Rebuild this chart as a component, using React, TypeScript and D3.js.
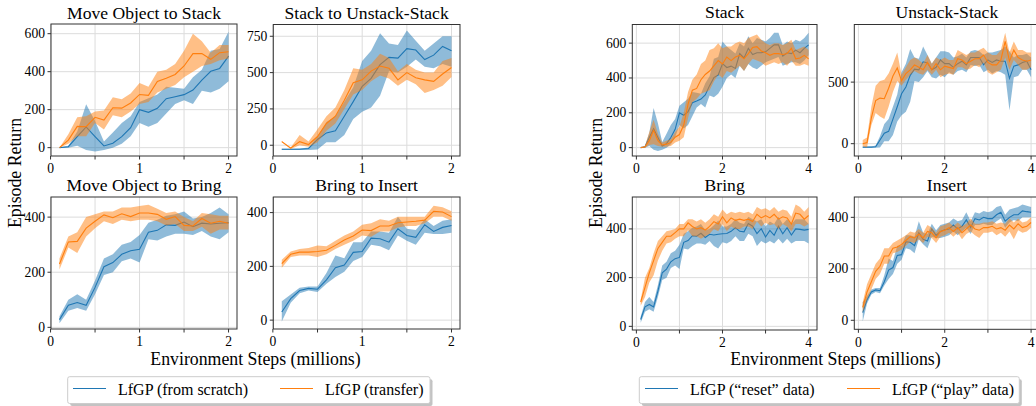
import React from 'react';
import * as d3 from 'd3';

const BLUE = '#1f77b4';
const ORANGE = '#ff7f0e';
const FONT = '"Liberation Serif", "Times New Roman", "DejaVu Serif", serif';

// environment steps (millions)
const steps2M = [0.1, 0.2, 0.3, 0.4, 0.5, 0.6, 0.7, 0.8, 0.9, 1.0, 1.1, 1.2, 1.3, 1.4, 1.5, 1.6, 1.7, 1.8, 1.9, 2.0];
const steps4M = [0.1, 0.2, 0.3, 0.4, 0.5, 0.6, 0.7, 0.8, 0.9, 1.0, 1.1, 1.2, 1.3, 1.4, 1.5, 1.6, 1.7, 1.8, 1.9, 2.0,
  2.1, 2.2, 2.3, 2.4, 2.5, 2.6, 2.7, 2.8, 2.9, 3.0, 3.1, 3.2, 3.3, 3.4, 3.5, 3.6, 3.7, 3.8, 3.9, 4.0];

const titles = ['Move Object to Stack', 'Stack to Unstack-Stack', 'Move Object to Bring', 'Bring to Insert',
  'Stack', 'Unstack-Stack', 'Bring', 'Insert'];
const legendLeft = ['LfGP (from scratch)', 'LfGP (transfer)'];
const legendRight = ['LfGP (\u201creset\u201d data)', 'LfGP (\u201cplay\u201d data)'];
const xAxisLabel = 'Environment Steps (millions)';
const yAxisLabel = 'Episode Return';

// Panel 1: Move Object to Stack
const p1BlueMean = [0, 5, 58, 109, 58, 9, 23, 58, 105, 200, 186, 207, 258, 268, 279, 303, 356, 402, 417, 482];
const p1BlueLo = [0, 0, 10, -12, -20, -12, 0, 20, 60, 130, 110, 130, 180, 230, 250, 230, 300, 290, 310, 350];
const p1BlueHi = [0, 10, 85, 228, 140, 32, 80, 130, 165, 240, 260, 280, 320, 315, 310, 370, 410, 510, 520, 610];
const p1OrangeMean = [0, 40, 112, 110, 160, 145, 210, 208, 235, 280, 275, 348, 365, 385, 430, 495, 495, 465, 500, 505];
const p1OrangeLo = [0, 20, 60, 60, 130, 95, 170, 160, 190, 230, 240, 290, 310, 330, 370, 400, 430, 440, 460, 470];
const p1OrangeHi = [0, 70, 160, 165, 190, 195, 265, 255, 285, 340, 320, 400, 410, 440, 510, 600, 560, 500, 540, 540];

// Panel 2: Stack to Unstack-Stack
const p2BlueMean = [-28, -28, -28, -22, 40, 85, 100, 200, 300, 405, 460, 555, 605, 600, 665, 655, 590, 620, 680, 650];
const p2BlueLo = [-32, -32, -32, -32, -30, 20, 20, 70, 180, 230, 260, 340, 510, 500, 540, 590, 540, 530, 560, 540];
const p2BlueHi = [-24, -24, -22, -15, 60, 160, 200, 300, 400, 580, 650, 770, 700, 690, 790, 720, 650, 700, 750, 750];
const p2OrangeMean = [25, -20, 25, 5, 60, 150, 200, 310, 430, 450, 510, 545, 530, 450, 500, 465, 450, 440, 490, 535];
const p2OrangeLo = [20, -25, 0, -10, 20, 100, 150, 250, 350, 380, 440, 480, 460, 410, 450, 420, 360, 380, 410, 470];
const p2OrangeHi = [30, -15, 70, 25, 110, 200, 260, 380, 530, 520, 560, 630, 600, 510, 560, 520, 500, 500, 580, 600];

// Panel 3: Move Object to Bring
const p3BlueMean = [28, 80, 90, 80, 145, 220, 235, 265, 278, 283, 345, 352, 372, 370, 382, 365, 378, 375, 378, 380];
const p3BlueLo = [15, 60, 70, 60, 120, 190, 200, 240, 250, 235, 320, 315, 330, 340, 340, 335, 350, 330, 320, 345];
const p3BlueHi = [40, 100, 120, 100, 170, 250, 265, 300, 310, 335, 380, 390, 405, 410, 420, 395, 400, 415, 435, 410];
const p3OrangeMean = [230, 310, 312, 360, 385, 408, 398, 412, 402, 415, 415, 410, 392, 402, 370, 368, 395, 378, 385, 378];
const p3OrangeLo = [210, 290, 270, 330, 360, 385, 375, 390, 385, 390, 390, 385, 370, 375, 350, 350, 365, 340, 355, 355];
const p3OrangeHi = [250, 330, 345, 400, 410, 420, 420, 435, 435, 440, 445, 430, 415, 420, 400, 385, 415, 410, 405, 405];

// Panel 4: Bring to Insert
const p4BlueMean = [30, 80, 110, 118, 115, 150, 195, 205, 252, 255, 305, 303, 290, 340, 315, 308, 355, 330, 345, 352];
const p4BlueLo = [-5, 65, 100, 110, 105, 135, 160, 180, 220, 235, 280, 275, 260, 315, 295, 280, 325, 320, 320, 325];
const p4BlueHi = [70, 95, 120, 125, 125, 175, 240, 230, 290, 290, 330, 330, 325, 385, 340, 335, 375, 350, 370, 375];
const p4OrangeMean = [210, 245, 253, 253, 255, 260, 278, 298, 313, 335, 333, 350, 350, 362, 365, 368, 372, 405, 402, 385];
const p4OrangeLo = [195, 235, 240, 240, 235, 245, 265, 280, 295, 315, 310, 330, 330, 345, 350, 350, 360, 385, 385, 370];
const p4OrangeHi = [225, 255, 265, 268, 278, 275, 295, 315, 330, 355, 360, 375, 370, 385, 385, 385, 385, 425, 420, 405];

// Panel 5: Stack
const p5BlueMean = [0, 5, 58, 109, 58, 9, 23, 58, 105, 200, 186, 207, 258, 268, 279, 303, 356, 402, 417, 482,
  460, 468, 455, 540, 515, 570, 535, 545, 545, 550, 570, 590, 590, 525, 545, 540, 560, 545, 570, 590];
const p5BlueLo = [0, 0, 10, -12, -20, -12, 0, 20, 60, 130, 110, 130, 180, 230, 250, 230, 300, 290, 310, 350,
  400, 420, 400, 470, 440, 480, 460, 450, 470, 490, 500, 510, 520, 470, 480, 490, 490, 480, 500, 530];
const p5BlueHi = [0, 10, 85, 228, 140, 32, 80, 130, 165, 240, 260, 280, 320, 315, 310, 370, 410, 510, 520, 610,
  580, 560, 540, 600, 580, 640, 600, 630, 620, 610, 630, 660, 660, 590, 610, 600, 620, 610, 630, 660];
const p5OrangeMean = [0, 5, 40, 100, 40, 15, 20, 30, 60, 75, 130, 250, 330, 340, 390, 420, 440, 470, 500, 480,
  520, 500, 520, 530, 510, 540, 575, 580, 555, 545, 530, 540, 540, 535, 540, 570, 510, 515, 530, 510];
const p5OrangeLo = [0, 0, 15, 20, 10, 5, 5, 10, 30, 40, 60, 170, 260, 280, 310, 320, 330, 380, 420, 400,
  440, 430, 450, 470, 440, 480, 510, 500, 490, 470, 480, 490, 480, 490, 470, 500, 470, 470, 480, 470];
const p5OrangeHi = [0, 10, 90, 160, 80, 30, 40, 50, 90, 120, 200, 320, 390, 420, 480, 500, 560, 570, 600, 570,
  580, 580, 600, 610, 600, 630, 640, 650, 620, 600, 590, 600, 600, 590, 600, 620, 560, 570, 580, 560];

// Panel 6: Unstack-Stack
const p6BlueMean = [-28, -28, -28, -25, 30, 85, 100, 200, 300, 405, 460, 555, 605, 600, 665, 655, 600, 620, 680, 650,
  650, 620, 650, 670, 640, 700, 700, 700, 640, 680, 660, 680, 670, 670, 530, 630, 640, 660, 670, 600];
const p6BlueLo = [-32, -32, -32, -32, -30, 20, 20, 70, 180, 230, 260, 340, 510, 500, 540, 590, 540, 530, 560, 540,
  580, 560, 590, 600, 580, 640, 630, 640, 580, 600, 570, 590, 580, 560, 270, 540, 550, 600, 600, 540];
const p6BlueHi = [-24, -24, -22, -15, 60, 160, 200, 300, 400, 580, 650, 770, 700, 690, 790, 720, 650, 700, 750, 750,
  740, 700, 710, 730, 700, 750, 760, 750, 720, 740, 740, 750, 760, 790, 750, 700, 720, 720, 730, 700];
const p6OrangeMean = [0, 10, 210, 350, 370, 365, 450, 550, 615, 510, 570, 600, 640, 620, 600, 660, 600, 650, 600, 630,
  620, 610, 690, 680, 650, 670, 690, 690, 720, 660, 640, 640, 680, 830, 670, 760, 700, 680, 670, 680];
const p6OrangeLo = [-20, -30, 150, 250, 220, 200, 300, 420, 510, 470, 520, 560, 590, 570, 560, 600, 560, 600, 540, 560,
  570, 560, 620, 620, 600, 610, 640, 620, 660, 580, 560, 580, 600, 700, 600, 680, 640, 600, 600, 620];
const p6OrangeHi = [30, 50, 300, 470, 510, 520, 570, 650, 740, 560, 620, 680, 700, 680, 650, 720, 650, 700, 680, 700,
  680, 680, 760, 740, 720, 740, 740, 760, 780, 740, 720, 720, 760, 900, 740, 830, 760, 760, 740, 740];

// Panel 7: Bring
const p7BlueMean = [28, 80, 90, 80, 145, 220, 235, 265, 278, 283, 345, 352, 372, 370, 382, 365, 378, 375, 378, 380,
  381, 390, 405, 390, 388, 422, 411, 381, 401, 367, 394, 374, 411, 380, 405, 375, 400, 398, 395, 398];
const p7BlueLo = [15, 60, 70, 60, 120, 190, 200, 240, 250, 235, 320, 315, 330, 340, 340, 335, 350, 330, 320, 345,
  340, 350, 370, 350, 350, 380, 370, 330, 350, 340, 350, 340, 360, 340, 360, 340, 350, 350, 350, 340];
const p7BlueHi = [40, 100, 120, 100, 170, 250, 265, 300, 310, 335, 380, 390, 405, 410, 420, 395, 400, 415, 435, 410,
  410, 420, 440, 425, 420, 450, 440, 430, 440, 410, 430, 420, 450, 420, 440, 420, 440, 440, 440, 420];
const p7OrangeMean = [100, 160, 220, 270, 320, 345, 370, 370, 385, 400, 400, 425, 410, 400, 405, 395, 410, 430, 420, 450,
  425, 445, 435, 440, 435, 440, 430, 460, 445, 455, 445, 460, 440, 450, 445, 420, 465, 460, 440, 455];
const p7OrangeLo = [85, 120, 180, 210, 270, 310, 340, 345, 360, 370, 370, 395, 370, 370, 360, 370, 380, 400, 390, 420,
  390, 410, 400, 400, 410, 410, 400, 430, 410, 425, 415, 420, 400, 420, 410, 390, 420, 420, 410, 420];
const p7OrangeHi = [110, 200, 240, 300, 350, 370, 390, 395, 400, 420, 420, 440, 440, 430, 440, 425, 440, 460, 450, 480,
  460, 470, 465, 470, 465, 470, 460, 490, 480, 485, 475, 490, 470, 480, 475, 450, 500, 490, 470, 490];

// Panel 8: Insert
const p8BlueMean = [30, 80, 110, 118, 115, 150, 195, 205, 252, 255, 305, 303, 290, 340, 315, 308, 355, 330, 345, 352,
  355, 370, 355, 365, 390, 360, 395, 390, 400, 395, 395, 410, 420, 385, 400, 410, 410, 425, 422, 420];
const p8BlueLo = [-5, 65, 100, 110, 105, 135, 160, 180, 220, 235, 280, 275, 260, 315, 295, 280, 325, 320, 320, 325,
  330, 345, 330, 345, 360, 335, 370, 370, 375, 370, 370, 385, 395, 360, 380, 390, 385, 400, 400, 400];
const p8BlueHi = [70, 95, 120, 125, 125, 175, 240, 230, 290, 290, 330, 330, 325, 385, 340, 335, 375, 350, 370, 375,
  380, 395, 385, 390, 420, 385, 420, 415, 425, 420, 425, 440, 445, 410, 430, 435, 440, 450, 445, 440];
const p8OrangeMean = [50, 110, 150, 190, 210, 250, 250, 280, 285, 295, 310, 325, 320, 335, 320, 345, 340, 320, 345, 350,
  360, 345, 360, 340, 355, 370, 355, 350, 360, 360, 365, 355, 360, 350, 370, 355, 375, 360, 365, 380];
const p8OrangeLo = [30, 80, 120, 160, 180, 220, 220, 260, 265, 275, 290, 305, 300, 315, 300, 325, 320, 300, 325, 330,
  340, 325, 340, 315, 335, 345, 330, 320, 340, 340, 345, 330, 340, 325, 345, 315, 350, 340, 345, 360];
const p8OrangeHi = [70, 140, 180, 220, 240, 280, 280, 300, 310, 320, 330, 345, 340, 355, 340, 370, 360, 340, 365, 370,
  380, 365, 380, 365, 375, 395, 375, 375, 380, 380, 385, 375, 380, 375, 395, 380, 395, 380, 385, 400];

type Series = { mean: number[]; lo: number[]; hi: number[]; color: string };
type PanelCfg = {
  title: string; l: number; r: number; t: number; b: number;
  xDomain: [number, number]; yDomain: [number, number];
  xTicks: number[]; xLabels: number[]; yTicks: number[];
  steps: number[]; series: Series[]; titleY: number;
};

const leftX: [number, number] = [0.005, 2.095];
const rightX: [number, number] = [-0.095, 4.195];
const leftXTicks = [0, 0.5, 1, 1.5, 2];
const leftXLabels = [0, 1, 2];
const rightXTicks = [0, 1, 2, 3, 4];
const rightXLabels = [0, 2, 4];

const panels: PanelCfg[] = [
  { title: titles[0], l: 51, r: 237, t: 24, b: 156, titleY: 18.5, xDomain: leftX, yDomain: [-44, 651],
    xTicks: leftXTicks, xLabels: leftXLabels, yTicks: [0, 200, 400, 600], steps: steps2M,
    series: [{ mean: p1BlueMean, lo: p1BlueLo, hi: p1BlueHi, color: BLUE }, { mean: p1OrangeMean, lo: p1OrangeLo, hi: p1OrangeHi, color: ORANGE }] },
  { title: titles[1], l: 273.3, r: 460, t: 24.5, b: 156, titleY: 18.5, xDomain: leftX, yDomain: [-74, 831],
    xTicks: leftXTicks, xLabels: leftXLabels, yTicks: [0, 250, 500, 750], steps: steps2M,
    series: [{ mean: p2BlueMean, lo: p2BlueLo, hi: p2BlueHi, color: BLUE }, { mean: p2OrangeMean, lo: p2OrangeLo, hi: p2OrangeHi, color: ORANGE }] },
  { title: titles[2], l: 51, r: 237, t: 197, b: 329, titleY: 191, xDomain: leftX, yDomain: [-6, 473],
    xTicks: leftXTicks, xLabels: leftXLabels, yTicks: [0, 200, 400], steps: steps2M,
    series: [{ mean: p3BlueMean, lo: p3BlueLo, hi: p3BlueHi, color: BLUE }, { mean: p3OrangeMean, lo: p3OrangeLo, hi: p3OrangeHi, color: ORANGE }] },
  { title: titles[3], l: 273.3, r: 460, t: 197, b: 329, titleY: 191, xDomain: leftX, yDomain: [-33, 458],
    xTicks: leftXTicks, xLabels: leftXLabels, yTicks: [0, 200, 400], steps: steps2M,
    series: [{ mean: p4BlueMean, lo: p4BlueLo, hi: p4BlueHi, color: BLUE }, { mean: p4OrangeMean, lo: p4OrangeLo, hi: p4OrangeHi, color: ORANGE }] },
  { title: titles[4], l: 632.3, r: 817, t: 24.5, b: 156, titleY: 18, xDomain: rightX, yDomain: [-48, 707],
    xTicks: rightXTicks, xLabels: rightXLabels, yTicks: [0, 200, 400, 600], steps: steps4M,
    series: [{ mean: p5BlueMean, lo: p5BlueLo, hi: p5BlueHi, color: BLUE }, { mean: p5OrangeMean, lo: p5OrangeLo, hi: p5OrangeHi, color: ORANGE }] },
  { title: titles[5], l: 854.3, r: 1039.5, t: 24.5, b: 156, titleY: 18, xDomain: rightX, yDomain: [-100, 968],
    xTicks: rightXTicks, xLabels: rightXLabels, yTicks: [0, 500], steps: steps4M,
    series: [{ mean: p6BlueMean, lo: p6BlueLo, hi: p6BlueHi, color: BLUE }, { mean: p6OrangeMean, lo: p6OrangeLo, hi: p6OrangeHi, color: ORANGE }] },
  { title: titles[6], l: 632.3, r: 817, t: 197, b: 330, titleY: 191, xDomain: rightX, yDomain: [-15, 531],
    xTicks: rightXTicks, xLabels: rightXLabels, yTicks: [0, 200, 400], steps: steps4M,
    series: [{ mean: p7BlueMean, lo: p7BlueLo, hi: p7BlueHi, color: BLUE }, { mean: p7OrangeMean, lo: p7OrangeLo, hi: p7OrangeHi, color: ORANGE }] },
  { title: titles[7], l: 854.3, r: 1039.5, t: 197, b: 329.3, titleY: 191, xDomain: rightX, yDomain: [-35, 479],
    xTicks: rightXTicks, xLabels: rightXLabels, yTicks: [0, 200, 400], steps: steps4M,
    series: [{ mean: p8BlueMean, lo: p8BlueLo, hi: p8BlueHi, color: BLUE }, { mean: p8OrangeMean, lo: p8OrangeLo, hi: p8OrangeHi, color: ORANGE }] },
];

const SPINE = '#333333';
const GRID = '#dcdcdc';
const TICK_FS = 13.6;
const TITLE_FS = 17.6;
const LABEL_FS = 17.8;
const LEGEND_FS = 16;

function Panel({ cfg, idx }: { cfg: PanelCfg; idx: number }) {
  const x = d3.scaleLinear().domain(cfg.xDomain).range([cfg.l, cfg.r]);
  const y = d3.scaleLinear().domain(cfg.yDomain).range([cfg.b, cfg.t]);
  const clipId = `clip-${idx}`;
  return (
    <g>
      <defs>
        <clipPath id={clipId}>
          <rect x={cfg.l} y={cfg.t} width={cfg.r - cfg.l} height={cfg.b - cfg.t} />
        </clipPath>
      </defs>
      <rect x={cfg.l} y={cfg.t} width={cfg.r - cfg.l} height={cfg.b - cfg.t} fill="#ffffff" />
      {cfg.xTicks.map((v) => (
        <line key={'gx' + v} x1={x(v)} x2={x(v)} y1={cfg.t} y2={cfg.b} stroke={GRID} strokeWidth={1} />
      ))}
      {cfg.yTicks.map((v) => (
        <line key={'gy' + v} x1={cfg.l} x2={cfg.r} y1={y(v)} y2={y(v)} stroke={GRID} strokeWidth={1} />
      ))}
      <g clipPath={`url(#${clipId})`}>
        {cfg.series.map((s, si) => {
          const area = d3.area<number>()
            .x((_, i) => x(cfg.steps[i]))
            .y0((_, i) => y(s.lo[i]))
            .y1((_, i) => y(s.hi[i]));
          const line = d3.line<number>()
            .x((_, i) => x(cfg.steps[i]))
            .y((d) => y(d));
          return (
            <g key={si}>
              <path d={area(s.mean) || ''} fill={s.color} fillOpacity={0.5} stroke="none" />
              <path d={line(s.mean) || ''} fill="none" stroke={s.color} strokeWidth={1.1} />
            </g>
          );
        })}
      </g>
      <rect x={cfg.l} y={cfg.t} width={cfg.r - cfg.l} height={cfg.b - cfg.t} fill="none" stroke={SPINE} strokeWidth={1} />
      {cfg.xTicks.map((v) => (
        <line key={'tx' + v} x1={x(v)} x2={x(v)} y1={cfg.b} y2={cfg.b + 3.5} stroke={SPINE} strokeWidth={1} />
      ))}
      {cfg.xLabels.map((v) => (
        <text key={'lx' + v} x={x(v)} y={cfg.b + 17.3} textAnchor="middle" fontSize={TICK_FS} fontFamily={FONT} fill="#000">{v}</text>
      ))}
      {cfg.yTicks.map((v) => (
        <g key={'ty' + v}>
          <line x1={cfg.l - 3.5} x2={cfg.l} y1={y(v)} y2={y(v)} stroke={SPINE} strokeWidth={1} />
          <text x={cfg.l - 6} y={y(v)} dy="0.33em" textAnchor="end" fontSize={TICK_FS} fontFamily={FONT} fill="#000">{v}</text>
        </g>
      ))}
      <text x={(cfg.l + cfg.r) / 2} y={cfg.titleY} textAnchor="middle" fontSize={TITLE_FS} fontFamily={FONT} fill="#000">{cfg.title}</text>
    </g>
  );
}

function Legend({ x0, x1, labels, lineX, textX }: { x0: number; x1: number; labels: string[]; lineX: number[]; textX: number[] }) {
  const top = 376.7;
  const bottom = 403.5;
  const colors = [BLUE, ORANGE];
  return (
    <g>
      <rect x={x0 + 2.5} y={top + 2.5} width={x1 - x0} height={bottom - top} rx={2} fill="#888" fillOpacity={0.5} />
      <rect x={x0} y={top} width={x1 - x0} height={bottom - top} rx={2} fill="#fff" stroke="#cccccc" strokeWidth={1} />
      {labels.map((lab, i) => (
        <g key={i}>
          <line x1={lineX[i]} x2={lineX[i] + 33} y1={388.5} y2={388.5} stroke={colors[i]} strokeWidth={1.1} />
          <text x={textX[i]} y={394.5} fontSize={LEGEND_FS} fontFamily={FONT} fill="#000">{lab}</text>
        </g>
      ))}
    </g>
  );
}

export default function App() {
  return (
    <svg width={1036} height={406} viewBox="0 0 1036 406" style={{ position: 'absolute', left: 0, top: 0, background: '#fff' }}>
      <rect x={0} y={0} width={1036} height={406} fill="#fff" />
      {panels.map((p, i) => <Panel key={i} cfg={p} idx={i} />)}
      <text x={255.5} y={364.5} textAnchor="middle" fontSize={LABEL_FS} fontFamily={FONT} fill="#000">{xAxisLabel}</text>
      <text x={835.5} y={364.5} textAnchor="middle" fontSize={LABEL_FS} fontFamily={FONT} fill="#000">{xAxisLabel}</text>
      <text transform="translate(21,173) rotate(-90)" textAnchor="middle" fontSize={LABEL_FS} fontFamily={FONT} fill="#000">{yAxisLabel}</text>
      <text transform="translate(602,173) rotate(-90)" textAnchor="middle" fontSize={LABEL_FS} fontFamily={FONT} fill="#000">{yAxisLabel}</text>
      <Legend x0={67.7} x1={430} labels={legendLeft} lineX={[73, 280]} textX={[118, 325]} />
      <Legend x0={639.3} x1={1019.3} labels={legendRight} lineX={[645, 847]} textX={[690, 892]} />
    </svg>
  );
}
